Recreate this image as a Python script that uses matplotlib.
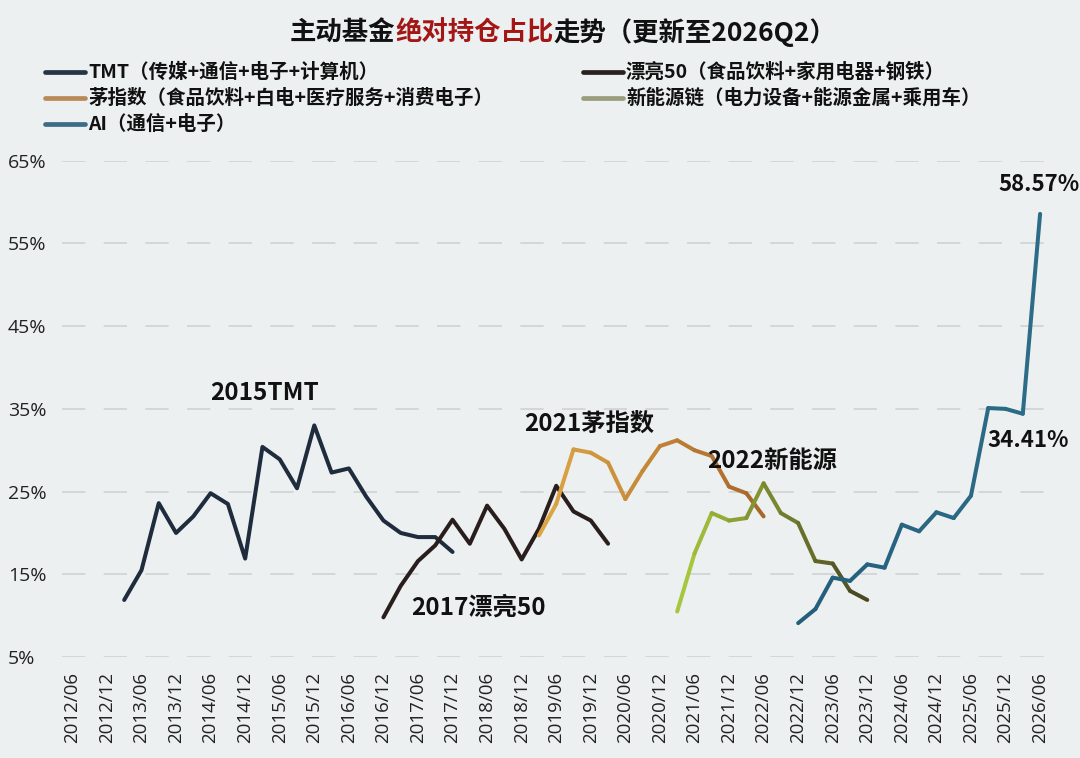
import numpy as np
import matplotlib
matplotlib.use('Agg')
import matplotlib.pyplot as plt
from matplotlib.collections import LineCollection
from matplotlib.colors import to_rgb

plt.rcParams['font.family'] = ['Noto Sans CJK SC', 'DejaVu Sans']

# quarterly axis 2012/06 .. 2026/06
quarters = [f'{y}/{m:02d}' for y in range(2012, 2027) for m in (3, 6, 9, 12)]
quarters = quarters[quarters.index('2012/06'):quarters.index('2026/06') + 1]
tick_labels = [q for q in quarters if q.endswith('/06') or q.endswith('/12')]
y_ticks = [5, 15, 25, 35, 45, 55, 65]

# series (% of active fund holdings)
tmt_start = '2013/03'
tmt = [11.9, 15.5, 23.6, 20.0, 22.0, 24.8, 23.5, 16.9, 30.4, 28.9,
       25.4, 33.0, 27.3, 27.8, 24.4, 21.5, 20.0, 19.5, 19.5, 17.7]

pl50_start = '2016/12'
pl50 = [9.8, 13.6, 16.6, 18.5, 21.6, 18.7, 23.3, 20.5, 16.8, 20.5,
        25.7, 22.6, 21.5, 18.7]

mao_start = '2019/03'
mao = [19.7, 23.5, 30.1, 29.7, 28.5, 24.1, 27.5, 30.5, 31.2, 30.0,
       29.3, 25.6, 24.8, 22.0]

xny_start = '2021/03'
xny = [10.5, 17.5, 22.4, 21.5, 21.8, 26.0, 22.4, 21.2, 16.6, 16.3,
       13.0, 11.9]

ai_start = '2022/12'
ai = [9.1, 10.8, 14.6, 14.2, 16.2, 15.8, 21.0, 20.2, 22.5, 21.8,
      24.5, 35.1, 35.0, 34.41, 58.57]

legend_labels = ['TMT（传媒+通信+电子+计算机）',
                 '漂亮50（食品饮料+家用电器+钢铁）',
                 '茅指数（食品饮料+白电+医疗服务+消费电子）',
                 '新能源链（电力设备+能源金属+乘用车）',
                 'AI（通信+电子）']
legend_colors = ['#253545', '#2a2020', '#b98a58', '#9a9d7c', '#3c6c86']

bg = '#edf0f0'


def xs(start, vals):
    i0 = quarters.index(start)
    return np.arange(i0, i0 + len(vals))


def grad_line(ax, x, y, c0, c1, lw=2.9):
    pts = np.column_stack([x, y])
    segs = np.stack([pts[:-1], pts[1:]], axis=1)
    t = np.linspace(0, 1, len(segs))[:, None]
    cols = (1 - t) * np.array(to_rgb(c0)) + t * np.array(to_rgb(c1))
    lc = LineCollection(segs, colors=cols, linewidths=lw, capstyle='round',
                        joinstyle='round', zorder=3)
    ax.add_collection(lc)


fig = plt.figure(figsize=(10.8, 7.58), dpi=100, facecolor=bg)
ax = fig.add_axes([0.0574, 0.1332, 0.913, 0.6548])
ax.set_facecolor(bg)

kw = dict(lw=2.9, solid_capstyle='round', solid_joinstyle='round', zorder=3)
ax.plot(xs(tmt_start, tmt), tmt, color='#1f2c3d', **kw)
ax.plot(xs(pl50_start, pl50), pl50, color='#2a1d1d', **kw)
grad_line(ax, xs(mao_start, mao), mao, '#dca544', '#a8682c')
grad_line(ax, xs(xny_start, xny), xny, '#a6c63e', '#4c4a22')
grad_line(ax, xs(ai_start, ai), ai, '#235f7c', '#2d6c88')

ax.set_xlim(-0.6, len(quarters) - 1 + 0.46)
ax.set_ylim(5, 65)
for s in ax.spines.values():
    s.set_visible(False)
ax.set_yticks(y_ticks)
ax.set_yticklabels([f'{v}%' for v in y_ticks], fontsize=14, color='#222222',
                   family=['Open Sans', 'DejaVu Sans'])
for lab in ax.get_yticklabels():
    lab.set_horizontalalignment('left')
ax.tick_params(axis='y', length=0, pad=39)
ax.set_xticks([quarters.index(t) for t in tick_labels])
ax.set_xticklabels(tick_labels, rotation=90, fontsize=13.5, color='#222222',
                   family=['Open Sans', 'DejaVu Sans'])
ax.tick_params(axis='x', length=0, pad=11)
ax.grid(axis='y', color='#cfd2d3', lw=1.2, dashes=(14, 11))
ax.set_axisbelow(True)

# labels on the curves
tk = dict(fontsize=17.5, fontweight='bold', color='#111111', ha='center', va='center')
ax.text(11.15, 36.9, '2015TMT', **tk)
ax.text(23.5, 11.0, '2017漂亮50', **tk)
ax.text(29.9, 33.1, '2021茅指数', **tk)
ax.text(40.5, 28.7, '2022新能源', **tk)
xa = xs(ai_start, ai)
ax.annotate(f'{ai[-1]:.2f}%', xy=(xa[-1], ai[-1]), xytext=(-1, 21),
            textcoords='offset points', fontsize=16, fontweight='bold',
            ha='center', va='center', color='#111111')
ax.annotate(f'{ai[-2]:.2f}%', xy=(xa[-2], ai[-2]), xytext=(4, -19),
            textcoords='offset points', fontsize=16, fontweight='bold',
            ha='center', va='center', color='#111111')

# legend (two columns, drawn by hand)
W, H = 1080, 758
rows = [(45, 72), (583, 72), (45, 98), (583, 98), (45, 124)]
for (px, py), lab, col in zip(rows, legend_labels, legend_colors):
    fig.add_artist(plt.Line2D([px / W, (px + 40) / W], [1 - py / H] * 2,
                              color=col, lw=3.4, solid_capstyle='round'))
    fig.text((px + 43) / W, 1 - py / H, lab, fontsize=14, fontweight='bold',
             color='#111111', va='center', ha='left')

# title with red middle part
parts = [('主动基金', '#111111'), ('绝对持仓占比', '#a31616'),
         ('走势（更新至2026Q2）', '#111111')]
fig.canvas.draw()
r = fig.canvas.get_renderer()
objs = [fig.text(0, 1 - 33 / H, s, color=c, fontsize=19, fontweight='bold',
                 va='center', ha='left') for s, c in parts]
widths = [o.get_window_extent(r).width / fig.bbox.width for o in objs]
x0 = 563 / W - sum(widths) / 2
for o, w in zip(objs, widths):
    o.set_x(x0)
    x0 += w

fig.savefig('out.png', dpi=100, facecolor=bg)
